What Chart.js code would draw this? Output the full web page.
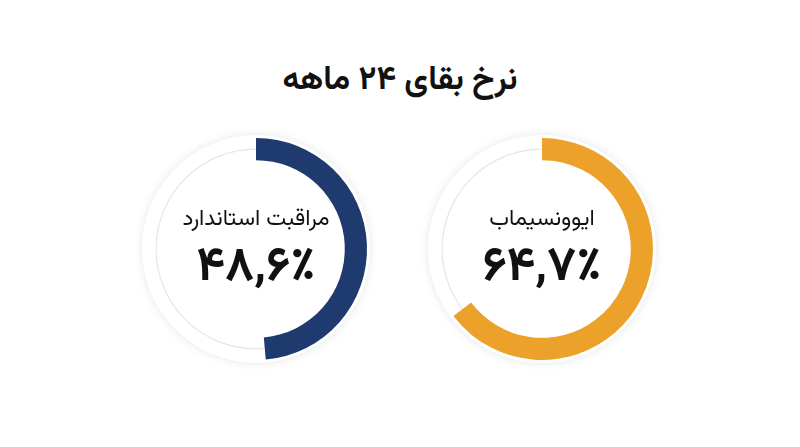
<!DOCTYPE html>
<html lang="fa" dir="rtl">
<head>
<meta charset="utf-8">
<script src="https://cdn.jsdelivr.net/npm/chart.js@4/dist/chart.umd.min.js"></script>
<style>
  body { margin: 0; width: 800px; height: 447px; background: #fff; position: relative; overflow: hidden;
         font-family: "Vazirmatn", "DejaVu Sans", sans-serif; }
  #title { position: absolute; top: 55px; left: 0; width: 800px; text-align: center; font-size: 33px; font-weight: bold; color: #111; }
  .box { position: absolute; width: 260px; height: 260px; top: 119px; }
  .box canvas { position: absolute; left: 0; top: 0; }
  .lbl { position: absolute; left: 0; width: 260px; text-align: center; top: 83px; font-size: 22.5px; color: #111; }
  .val { position: absolute; left: 0; width: 260px; text-align: center; top: 112px; font-size: 48px; font-weight: bold; color: #111; }
</style>
</head>
<body>
<div id="title">نرخ بقای ۲۴ ماهه</div>
<div class="box" id="b0" style="left:126px"><canvas id="c0" width="260" height="260"></canvas><div class="lbl"></div><div class="val"></div></div>
<div class="box" id="b1" style="left:412px"><canvas id="c1" width="260" height="260"></canvas><div class="lbl"></div><div class="val"></div></div>
<script>
const groups = ['مراقبت استاندارد', 'ایوونسیماب'];
const rates = [48.6, 64.7];
const colors = ['#1f3a6e', '#eba12a'];

const faDigits = (s) => s.replace(/[0-9]/g, d => '۰۱۲۳۴۵۶۷۸۹'[d]);

// white disc with soft shadow + thin grey track, drawn under the arc
const backdrop = {
  id: 'backdrop',
  beforeDatasetsDraw(chart) {
    const arc = chart.getDatasetMeta(0).data[0];
    if (!arc) return;
    const ctx = chart.ctx;
    ctx.save();
    ctx.beginPath();
    ctx.arc(arc.x, arc.y, arc.outerRadius + 3, 0, Math.PI * 2);
    ctx.fillStyle = '#fff';
    ctx.shadowColor = 'rgba(0,0,0,0.10)';
    ctx.shadowBlur = 10;
    ctx.fill();
    ctx.shadowColor = 'transparent';
    ctx.beginPath();
    ctx.arc(arc.x, arc.y, (arc.innerRadius + arc.outerRadius) / 2, 0, Math.PI * 2);
    ctx.strokeStyle = '#e6e6e6';
    ctx.lineWidth = 1.2;
    ctx.stroke();
    ctx.restore();
  }
};

groups.forEach((g, i) => {
  const box = document.getElementById('b' + i);
  box.querySelector('.lbl').textContent = g;
  box.querySelector('.val').textContent = faDigits(rates[i].toString().replace('.', ',')) + '٪';
  new Chart(document.getElementById('c' + i), {
    type: 'doughnut',
    data: {
      labels: [g, ''],
      datasets: [{
        data: [rates[i], 100 - rates[i]],
        backgroundColor: [colors[i], 'rgba(0,0,0,0)'],
        borderWidth: 0
      }]
    },
    options: {
      responsive: false,
      animation: false,
      cutout: '80%',
      layout: { padding: 19 },
      plugins: { legend: { display: false }, tooltip: { enabled: false } }
    },
    plugins: [backdrop]
  });
});
</script>
</body>
</html>
